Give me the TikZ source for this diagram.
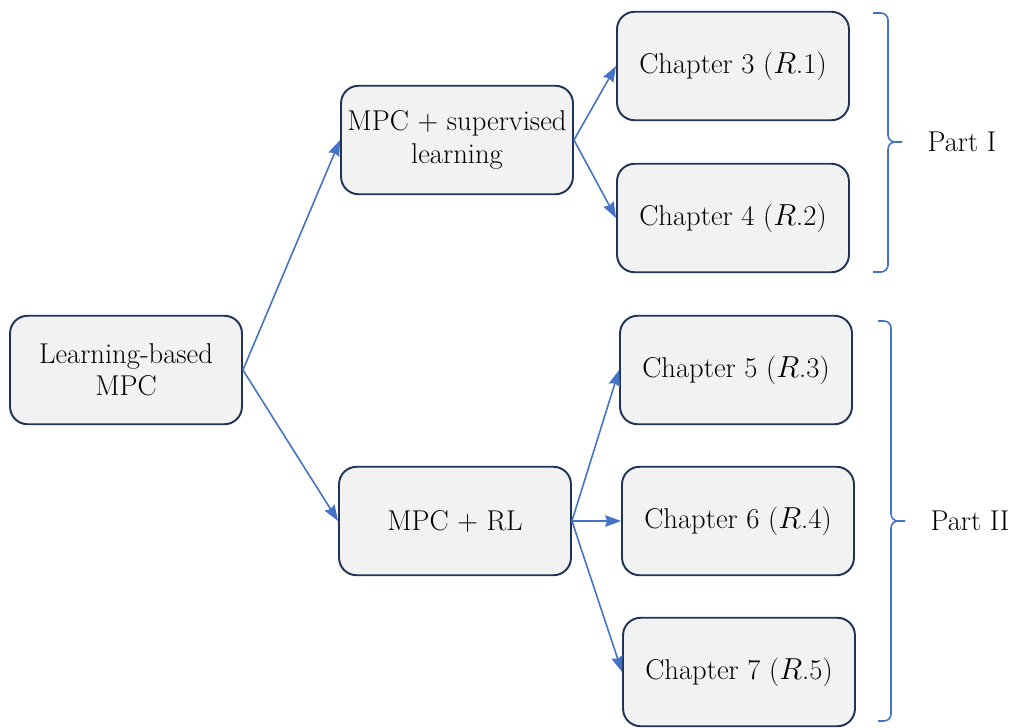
\documentclass[tikz,border=0pt]{standalone}
\usepackage{xcolor}
\usepackage{tikz}
\usetikzlibrary{
    positioning,
    arrows.meta,
    calc
}
\definecolor{boxNavy}{RGB}{32, 52, 88}
\definecolor{boxFill}{RGB}{242, 242, 242}
\definecolor{arrowBlue}{RGB}{68, 114, 196}

\begin{document}
\begin{tikzpicture}[x=0.02cm, y=-0.02cm, >={Stealth[length=9pt, width=6.5pt, inset=1pt]},
    box/.style={draw=boxNavy, line width=1.1pt, fill=boxFill, rounded corners=10pt,
        minimum width=4.64cm, minimum height=2.17cm, inner sep=0pt, align=center,
        font=\fontsize{16.3}{18.5}\selectfont},
    link/.style={->, arrowBlue, line width=0.9pt},
    bracket/.style={arrowBlue, line width=0.9pt, rounded corners=4pt},
    partlabel/.style={font=\fontsize{16.3}{18.5}\selectfont}]
            \useasboundingbox (0,0) rectangle (1014,727);

            % root and the two branches
            \node[box] (root) at (126,370) {Learning-based\\MPC};
            \node[box] (sup) at (457,140) {MPC + supervised\\learning};
            \node[box] (rl) at (455,521) {MPC + RL};

            % chapters
            \node[box] (ch3) at (733,66) {Chapter 3 ($R$.1)};
            \node[box] (ch4) at (733,218) {Chapter 4 ($R$.2)};
            \node[box] (ch5) at (736,370) {Chapter 5 ($R$.3)};
            \node[box] (ch6) at (738,521) {Chapter 6 ($R$.4)};
            \node[box] (ch7) at (739,672) {Chapter 7 ($R$.5)};

            \draw[link] (root.east) -- (sup.west);
            \draw[link] (root.east) -- (rl.west);
            \draw[link] (sup.east) -- (ch3.west);
            \draw[link] (sup.east) -- (ch4.west);
            \draw[link] (rl.east) -- (ch5.west);
            \draw[link] (rl.east) -- (ch6.west);
            \draw[link] (rl.east) -- (ch7.west);

            % Part I bracket
            \coordinate (tip1) at (902,142);
            \draw[bracket] (873,13) -| (888,142) -- (tip1);
            \draw[bracket] (tip1) -- (888,142) |- (873,272);
            \node[partlabel, right=11pt of tip1] (part1) {Part I};

            % Part II bracket
            \coordinate (tip2) at (905,521);
            \draw[bracket] (878,321) -| (891,521) -- (tip2);
            \draw[bracket] (tip2) -- (891,521) |- (878,721);
            \node[partlabel, right=11pt of tip2] (part2) {Part II};
        \end{tikzpicture}
\end{document}
